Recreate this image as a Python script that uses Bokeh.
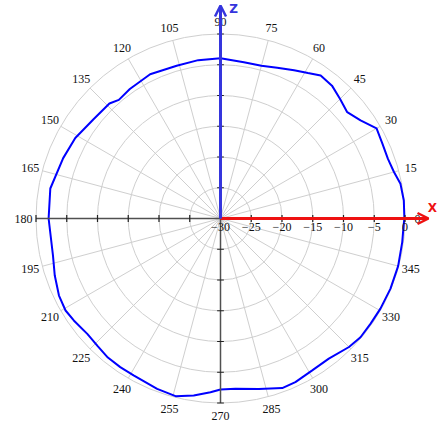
import numpy as np
from bokeh.plotting import figure
from bokeh.models import Arrow, OpenHead, ColumnDataSource, Label
from bokeh.core.properties import value
from bokeh.embed import file_html
from bokeh.resources import INLINE

# ---- data ----
angles_deg = [0, 5.6, 10.9, 15, 19.6, 24.8, 30, 35, 40, 45, 50, 55, 59, 63.6, 69.4, 75,
              81.5, 90, 98, 106, 116, 125, 130.6, 134, 142, 151, 159, 170, 180, 192.5,
              199, 205.5, 210.7, 214.8, 221, 226, 231, 236, 241, 249.6, 255.8, 261.4,
              266.7, 270, 275, 282.7, 290, 294.6, 301, 307.7, 315, 319.7, 325, 330.6,
              337.5, 345, 352.6, 358, 360]
gain_db = [-0.1, -0.05, -0.2, -0.8, -1.1, -1.0, -0.7, -2.2, -3.1, -2.5, -1.8, -1.6, -2.4,
           -3.1, -3.8, -4.3, -4.3, -3.95, -4.0, -4.15, -3.9, -4.3, -4.6, -4.0, -3.8, -3.0,
           -2.6, -1.9, -2.05, -2.1, -1.5, -0.9, -0.7, -0.95, -1.35, -1.2, -0.9, -0.85,
           -0.85, -0.45, -0.2, -0.9, -1.7, -2.2, -2.2, -1.6, -0.65, -0.75, -1.15, -1.2,
           -0.45, -0.15, -0.2, -0.15, -0.1, -0.1, -0.2, -0.2, -0.1]
angle_ticks = list(range(0, 360, 15))
radial_ticks = [-30, -25, -20, -15, -10, -5, 0]
r_min, r_max = -30, 0

# ---- geometry ----
W, H = 442, 437
PX = 184.5 / (r_max - r_min)      # pixels per dB
cx, cy = 220, 218                 # centre in canvas pixels
R = r_max - r_min
x_range = (-cx / PX, (W - cx) / PX)
y_range = (-(H - cy) / PX, cy / PX)

p = figure(width=W, height=H, x_range=x_range, y_range=y_range,
           x_axis_location=None, y_axis_location=None,
           toolbar_location=None, output_backend="svg",
           min_border=0, outline_line_color=None)
p.grid.grid_line_color = None
p.background_fill_color = "white"

grid_col = "#cfcfcf"
# circles
rings = [t - r_min for t in radial_ticks if t > r_min]
p.circle(x=[0] * len(rings), y=[0] * len(rings), radius=rings,
         fill_color=None, line_color=grid_col, line_width=1)
# spokes
th = np.deg2rad(angle_ticks)
p.multi_line(xs=[[0, R * np.cos(a)] for a in th], ys=[[0, R * np.sin(a)] for a in th],
             line_color=grid_col, line_width=1)

# data curve
a = np.deg2rad(angles_deg)
rr = np.array(gain_db) - r_min
p.line(rr * np.cos(a), rr * np.sin(a), line_color="#0000ff", line_width=2)

# left / bottom black axes
ax_col = "#505050"
p.segment(x0=[0, 0], y0=[0, 0], x1=[-R, 0], y1=[0, -R], line_color=ax_col, line_width=1.5)

# red X axis and blue Z axis with arrows
red = "#ee1111"
blue = "#3535dd"
p.add_layout(Arrow(end=OpenHead(size=11, line_color=red, line_width=2.5),
                   x_start=0, y_start=0, x_end=(428 - cx) / PX, y_end=0,
                   line_color=red, line_width=3))
p.add_layout(Arrow(end=OpenHead(size=11, line_color=blue, line_width=2.5),
                   x_start=0, y_start=0, x_end=0, y_end=(cy - 5) / PX,
                   line_color=blue, line_width=3))

# tick marks on all four axes
tl = 0.55
pos = [t - r_min for t in radial_ticks if t > r_min]
tx0, ty0, tx1, ty1 = [], [], [], []
for q in pos:
    for sx in (1, -1):
        tx0.append(sx * q); tx1.append(sx * q); ty0.append(-tl); ty1.append(tl)
    for sy in (1, -1):
        ty0.append(sy * q); ty1.append(sy * q); tx0.append(-tl); tx1.append(tl)
p.segment(x0=tx0, y0=ty0, x1=tx1, y1=ty1, line_color="#222222", line_width=1.2)

# radial tick labels
rad_src = ColumnDataSource(dict(
    x=[t - r_min for t in radial_ticks],
    y=[-8 / PX] * len(radial_ticks),
    t=[("\u2212" + str(-t)) if t < 0 else str(t) for t in radial_ticks]))
p.text(x="x", y="y", text="t", source=rad_src, text_align="center",
       text_baseline="middle", text_font=value("Liberation Serif"),
       text_font_size="12px", text_color="#111111")

# angle labels
lab_r = 197 / PX
ang_src = ColumnDataSource(dict(
    x=[lab_r * np.cos(np.deg2rad(t)) for t in angle_ticks],
    y=[lab_r * np.sin(np.deg2rad(t)) for t in angle_ticks],
    t=[str(t) for t in angle_ticks]))
p.text(x="x", y="y", text="t", source=ang_src, text_align="center",
       text_baseline="middle", text_font=value("Liberation Serif"),
       text_font_size="12px", text_color="#111111")

# axis names
p.add_layout(Label(x=(233 - cx) / PX, y=(cy - 8) / PX, text="Z", text_color=blue,
                   text_font="DejaVu Sans", text_font_style="bold",
                   text_font_size="12px", text_align="center", text_baseline="middle"))
p.add_layout(Label(x=(432 - cx) / PX, y=(cy - 207) / PX, text="X", text_color=red,
                   text_font="DejaVu Sans", text_font_style="bold",
                   text_font_size="12px", text_align="center", text_baseline="middle"))

open("out.html", "w").write(file_html(p, INLINE))
